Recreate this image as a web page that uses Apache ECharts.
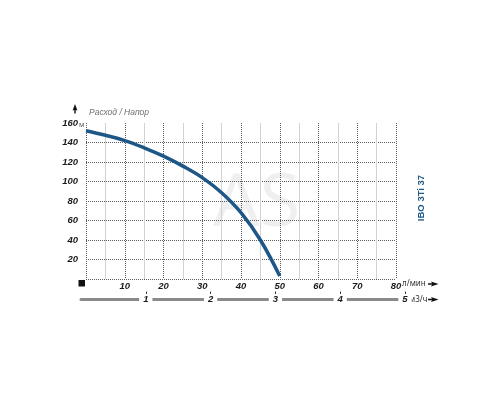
<!DOCTYPE html>
<html>
<head>
<meta charset="utf-8">
<script src="https://cdn.jsdelivr.net/npm/echarts@6/dist/echarts.min.js"></script>
<style>html,body{margin:0;padding:0;background:#fff}#c{width:500px;height:400px}</style>
</head>
<body>
<div id="c"></div>
<script>
// Flow (l/min) vs head (m)
const flowLmin = [0, 5, 10, 15, 20, 25, 30, 35, 40, 45, 50];
const headM    = [152, 147.4, 142, 134.6, 126, 115.8, 104, 88.5, 68, 40, 3];
const flowTicks = [10, 20, 30, 40, 50, 60, 70, 80];
const headTicks = [20, 40, 60, 80, 100, 120, 140, 160];
const m3hTicks = [1, 2, 3, 4, 5];
const yTitle = 'Расход / Напор';
const modelName = 'IBO 3Ti 37';

const FONT = 'Liberation Sans';
const labelStyle = {color:'#1a1a1a', fontStyle:'italic', fontWeight:'bold', fontFamily:FONT};

const chart = echarts.init(document.getElementById('c'), null, {renderer:'canvas'});
const ySplitColors = headTicks.map(() => '#5a5a5a');
ySplitColors.unshift('#5a5a5a');
ySplitColors[ySplitColors.length-1] = 'rgba(0,0,0,0)';

chart.setOption({
  animation:false,
  backgroundColor:'#fff',
  grid:[
    {left:86, top:123, width:310, height:156},
    {left:81, top:290, width:324, height:9.5}
  ],
  xAxis:[
    {type:'value', gridIndex:0, min:0, max:80, interval:10,
     axisLine:{show:false}, axisTick:{show:false},
     axisLabel:Object.assign({fontSize:9.5, margin:2,
        formatter:v => flowTicks.includes(v) ? String(v) : ''}, labelStyle),
     splitLine:{show:true, lineStyle:{type:[1,1], color:'#5a5a5a', width:1}},
     minorTick:{show:false, splitNumber:2},
     minorSplitLine:{show:true, lineStyle:{color:'#d2d2d2', width:1}}
    },
    {type:'value', gridIndex:1, min:0, max:5, interval:1,
     axisLine:{show:true, lineStyle:{color:'#8a8a8a', width:3}},
     axisTick:{show:true, inside:true, length:8, customValues:m3hTicks, lineStyle:{color:'#333', width:1}},
     axisLabel:Object.assign({fontSize:9.5, margin:-5.5, customValues:m3hTicks,
        backgroundColor:'#fff', padding:[0,4], formatter:v => String(v)}, labelStyle),
     splitLine:{show:false}
    }
  ],
  yAxis:[
    {type:'value', gridIndex:0, min:0, max:160, interval:20,
     axisLine:{show:false}, axisTick:{show:false},
     axisLabel:Object.assign({fontSize:9.5, margin:8,
        formatter:v => headTicks.includes(v) ? String(v) : ''}, labelStyle),
     splitLine:{show:true, lineStyle:{type:[1,1], color:ySplitColors, width:1}}
    },
    {type:'value', gridIndex:1, min:0, max:1, show:false}
  ],
  series:[
    {type:'line', xAxisIndex:0, yAxisIndex:0, smooth:0.4, symbol:'none',
     data:flowLmin.map((x,i) => [x, headM[i]]),
     lineStyle:{color:'#1d5788', width:3.5}, z:5}
  ],
  graphic:[
    {type:'text', left:213, top:168, z:-1, silent:true,
     style:{text:'AS', font:'normal 74px "Open Sans"', fill:'#efefef'}},
    {type:'text', x:421, y:198, rotation:Math.PI/2,
     style:{text:modelName, font:'bold 9.5px "Liberation Sans"', fill:'#1d5a8a', align:'center', verticalAlign:'middle'}},
    {type:'text', x:89, y:113,
     style:{text:yTitle, font:'italic 8.5px "Liberation Sans"', fill:'#707070', align:'left', verticalAlign:'middle'}},
    {type:'text', x:79, y:125,
     style:{text:'м', font:'7px "Noto Sans"', fill:'#555', align:'left', verticalAlign:'middle'}},
    {type:'text', x:402, y:284,
     style:{text:'л/мин', font:'8px "Noto Sans"', fill:'#333', align:'left', verticalAlign:'middle'}},
    {type:'text', x:409, y:299.5,
     style:{text:'м3/ч', font:'8px "Noto Sans"', fill:'#333', align:'left', verticalAlign:'middle'}},
    {type:'polygon', shape:{points:[[428,283.3],[432,283.3],[431,281.6],[438.5,284],[431,286.4],[432,284.7],[428,284.7]]}, style:{fill:'#111'}},
    {type:'polygon', shape:{points:[[428,298.8],[432,298.8],[431,297.1],[438.5,299.5],[431,301.9],[432,300.2],[428,300.2]]}, style:{fill:'#111'}},
    {type:'polygon', shape:{points:[[74.3,113.5],[74.3,110],[72.6,110.5],[75,104],[77.4,110.5],[75.7,110],[75.7,113.5]]}, style:{fill:'#111'}},
    {type:'rect', shape:{x:78.5, y:280, width:6.5, height:6.5}, style:{fill:'#111'}}
  ]
});
</script>
</body>
</html>
